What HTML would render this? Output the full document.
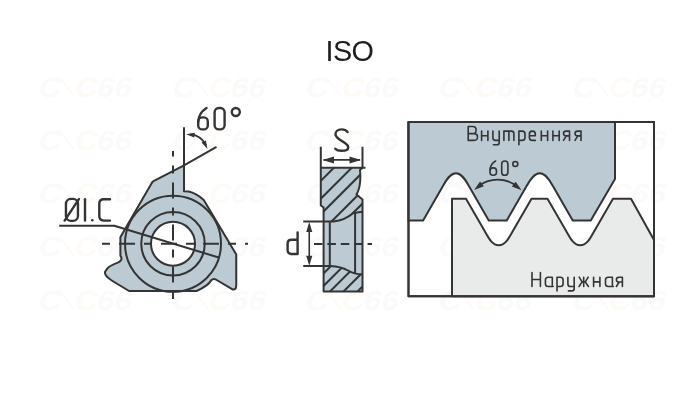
<!DOCTYPE html>
<html><head><meta charset="utf-8">
<style>
html,body{margin:0;padding:0;background:#fff;width:700px;height:400px;overflow:hidden}
svg{display:block;will-change:transform}
text{font-family:"Liberation Sans",sans-serif}
</style></head><body>
<svg width="700" height="400" viewBox="0 0 700 400">
<rect width="700" height="400" fill="#fff"/>
<!-- watermark -->
<g id="wm" font-family="Liberation Sans" font-weight="bold" font-size="28" fill="#fafafa">
<g transform="translate(36 96.70) skewX(-14) scale(1.12 1)"><text x="1" y="0">C</text><text x="33" y="0" fill="#fefaf6">C</text><text x="53" y="0">66</text></g><path d="M60.0 78.0 L74.0 96.0" stroke="#fef9f4" stroke-width="1.6" fill="none"/>
<g transform="translate(170 96.70) skewX(-14) scale(1.12 1)"><text x="1" y="0">C</text><text x="33" y="0" fill="#fefaf6">C</text><text x="53" y="0">66</text></g><path d="M194.0 78.0 L208.0 96.0" stroke="#fef9f4" stroke-width="1.6" fill="none"/>
<g transform="translate(303 96.70) skewX(-14) scale(1.12 1)"><text x="1" y="0">C</text><text x="33" y="0" fill="#fefaf6">C</text><text x="53" y="0">66</text></g><path d="M327.0 78.0 L341.0 96.0" stroke="#fef9f4" stroke-width="1.6" fill="none"/>
<g transform="translate(436 96.70) skewX(-14) scale(1.12 1)"><text x="1" y="0">C</text><text x="33" y="0" fill="#fefaf6">C</text><text x="53" y="0">66</text></g><path d="M460.0 78.0 L474.0 96.0" stroke="#fef9f4" stroke-width="1.6" fill="none"/>
<g transform="translate(570 96.70) skewX(-14) scale(1.12 1)"><text x="1" y="0">C</text><text x="33" y="0" fill="#fefaf6">C</text><text x="53" y="0">66</text></g><path d="M594.0 78.0 L608.0 96.0" stroke="#fef9f4" stroke-width="1.6" fill="none"/>
<g transform="translate(36 149.95) skewX(-14) scale(1.12 1)"><text x="1" y="0">C</text><text x="33" y="0" fill="#fefaf6">C</text><text x="53" y="0">66</text></g><path d="M60.0 131.2 L74.0 149.2" stroke="#fef9f4" stroke-width="1.6" fill="none"/>
<g transform="translate(170 149.95) skewX(-14) scale(1.12 1)"><text x="1" y="0">C</text><text x="33" y="0" fill="#fefaf6">C</text><text x="53" y="0">66</text></g><path d="M194.0 131.2 L208.0 149.2" stroke="#fef9f4" stroke-width="1.6" fill="none"/>
<g transform="translate(303 149.95) skewX(-14) scale(1.12 1)"><text x="1" y="0">C</text><text x="33" y="0" fill="#fefaf6">C</text><text x="53" y="0">66</text></g><path d="M327.0 131.2 L341.0 149.2" stroke="#fef9f4" stroke-width="1.6" fill="none"/>
<g transform="translate(436 149.95) skewX(-14) scale(1.12 1)"><text x="1" y="0">C</text><text x="33" y="0" fill="#fefaf6">C</text><text x="53" y="0">66</text></g><path d="M460.0 131.2 L474.0 149.2" stroke="#fef9f4" stroke-width="1.6" fill="none"/>
<g transform="translate(570 149.95) skewX(-14) scale(1.12 1)"><text x="1" y="0">C</text><text x="33" y="0" fill="#fefaf6">C</text><text x="53" y="0">66</text></g><path d="M594.0 131.2 L608.0 149.2" stroke="#fef9f4" stroke-width="1.6" fill="none"/>
<g transform="translate(36 203.20) skewX(-14) scale(1.12 1)"><text x="1" y="0">C</text><text x="33" y="0" fill="#fefaf6">C</text><text x="53" y="0">66</text></g><path d="M60.0 184.5 L74.0 202.5" stroke="#fef9f4" stroke-width="1.6" fill="none"/>
<g transform="translate(170 203.20) skewX(-14) scale(1.12 1)"><text x="1" y="0">C</text><text x="33" y="0" fill="#fefaf6">C</text><text x="53" y="0">66</text></g><path d="M194.0 184.5 L208.0 202.5" stroke="#fef9f4" stroke-width="1.6" fill="none"/>
<g transform="translate(303 203.20) skewX(-14) scale(1.12 1)"><text x="1" y="0">C</text><text x="33" y="0" fill="#fefaf6">C</text><text x="53" y="0">66</text></g><path d="M327.0 184.5 L341.0 202.5" stroke="#fef9f4" stroke-width="1.6" fill="none"/>
<g transform="translate(436 203.20) skewX(-14) scale(1.12 1)"><text x="1" y="0">C</text><text x="33" y="0" fill="#fefaf6">C</text><text x="53" y="0">66</text></g><path d="M460.0 184.5 L474.0 202.5" stroke="#fef9f4" stroke-width="1.6" fill="none"/>
<g transform="translate(570 203.20) skewX(-14) scale(1.12 1)"><text x="1" y="0">C</text><text x="33" y="0" fill="#fefaf6">C</text><text x="53" y="0">66</text></g><path d="M594.0 184.5 L608.0 202.5" stroke="#fef9f4" stroke-width="1.6" fill="none"/>
<g transform="translate(36 256.45) skewX(-14) scale(1.12 1)"><text x="1" y="0">C</text><text x="33" y="0" fill="#fefaf6">C</text><text x="53" y="0">66</text></g><path d="M60.0 237.8 L74.0 255.8" stroke="#fef9f4" stroke-width="1.6" fill="none"/>
<g transform="translate(170 256.45) skewX(-14) scale(1.12 1)"><text x="1" y="0">C</text><text x="33" y="0" fill="#fefaf6">C</text><text x="53" y="0">66</text></g><path d="M194.0 237.8 L208.0 255.8" stroke="#fef9f4" stroke-width="1.6" fill="none"/>
<g transform="translate(303 256.45) skewX(-14) scale(1.12 1)"><text x="1" y="0">C</text><text x="33" y="0" fill="#fefaf6">C</text><text x="53" y="0">66</text></g><path d="M327.0 237.8 L341.0 255.8" stroke="#fef9f4" stroke-width="1.6" fill="none"/>
<g transform="translate(436 256.45) skewX(-14) scale(1.12 1)"><text x="1" y="0">C</text><text x="33" y="0" fill="#fefaf6">C</text><text x="53" y="0">66</text></g><path d="M460.0 237.8 L474.0 255.8" stroke="#fef9f4" stroke-width="1.6" fill="none"/>
<g transform="translate(570 256.45) skewX(-14) scale(1.12 1)"><text x="1" y="0">C</text><text x="33" y="0" fill="#fefaf6">C</text><text x="53" y="0">66</text></g><path d="M594.0 237.8 L608.0 255.8" stroke="#fef9f4" stroke-width="1.6" fill="none"/>
<g transform="translate(36 309.70) skewX(-14) scale(1.12 1)"><text x="1" y="0">C</text><text x="33" y="0" fill="#fefaf6">C</text><text x="53" y="0">66</text></g><path d="M60.0 291.0 L74.0 309.0" stroke="#fef9f4" stroke-width="1.6" fill="none"/>
<g transform="translate(170 309.70) skewX(-14) scale(1.12 1)"><text x="1" y="0">C</text><text x="33" y="0" fill="#fefaf6">C</text><text x="53" y="0">66</text></g><path d="M194.0 291.0 L208.0 309.0" stroke="#fef9f4" stroke-width="1.6" fill="none"/>
<g transform="translate(303 309.70) skewX(-14) scale(1.12 1)"><text x="1" y="0">C</text><text x="33" y="0" fill="#fefaf6">C</text><text x="53" y="0">66</text></g><path d="M327.0 291.0 L341.0 309.0" stroke="#fef9f4" stroke-width="1.6" fill="none"/>
<g transform="translate(436 309.70) skewX(-14) scale(1.12 1)"><text x="1" y="0">C</text><text x="33" y="0" fill="#fefaf6">C</text><text x="53" y="0">66</text></g><path d="M460.0 291.0 L474.0 309.0" stroke="#fef9f4" stroke-width="1.6" fill="none"/>
<g transform="translate(570 309.70) skewX(-14) scale(1.12 1)"><text x="1" y="0">C</text><text x="33" y="0" fill="#fefaf6">C</text><text x="53" y="0">66</text></g><path d="M594.0 291.0 L608.0 309.0" stroke="#fef9f4" stroke-width="1.6" fill="none"/>
</g>
<!-- title -->
<text x="325.4" y="61" font-size="28.8" letter-spacing="-0.5" fill="#1e1e1e">ISO</text>

<!-- ===== LEFT INSERT ===== -->
<g stroke="#343434" stroke-width="2" fill="none" stroke-linejoin="round">
<path fill="#bccad3" d="M153.5 181.1 L184 165.4 L184 191.25 L188.75 191.5 Q196 193 203.75 200 L236.25 254.4 L236.25 285.5 Q236.25 290 232.5 289.4 L217.5 280.5 Q213.8 277.6 211.2 280.3 Q209.6 283.2 206.5 285.3 Q201.5 288.8 196.5 291 L129.1 291 L112.5 281 Q103 275 105.5 271 Q108 266 117.75 262.6 Q123.5 260 120.4 255.6 L120.4 237.3 L127.4 225 L151.5 183.5 Q152.3 181.7 153.5 181.1 Z"/>
<circle cx="173" cy="243.75" r="48"/>
<circle cx="173" cy="243.75" r="31.75"/>
<circle cx="173" cy="243.75" r="22" fill="#fff"/>
<path d="M184 127.25 L184 191.25"/>
<path d="M184 165.4 L216.5 146.9"/>
<path d="M59.2 225.8 L114.25 225.8 L218.75 257.5"/>
</g>
<g stroke="#343434" stroke-width="2" fill="none">
<path d="M102 243.75 L248 243.75" stroke-dasharray="8 9 16 9"/>
<path d="M173 151 L173 299" stroke-dasharray="5.5 9 8 9 16 9 8 9 16 9 8 9 16 9 8 9 16 9 8 9"/>
</g>

<!-- ===== MIDDLE SECTION ===== -->
<g stroke="#343434" stroke-width="2" fill="none" stroke-linejoin="round">
<path fill="#bccad3" d="M320.8 167.8 L362.5 167.8 L360 170 Q361.5 186 356.5 194.5 L362.5 199.5 L362.5 291.6 L323.6 291.6 L323.6 207.5 L320.8 205.5 Z"/>
<path d="M320.8 146.8 L320.8 167.8 M362.5 146.8 L362.5 167.8 L365.5 167.8"/>
<clipPath id="hu"><path d="M320.8 167.8 L362.5 167.8 L360 170 Q361.5 186 356.5 194.5 L362.5 199.5 L362.5 211.8 L353.4 213 C348 217.6 340 220.8 333.4 221.6 L323.6 221.6 L323.6 207.5 L320.8 205.5 Z"/></clipPath>
<clipPath id="hl"><path d="M323.6 266 L330.5 266 Q341 266.5 348 270.5 Q354 274.3 362.5 274.3 L362.5 291.6 L323.6 291.6 Z"/></clipPath>
<g stroke="#343434" stroke-width="2" clip-path="url(#hu)">
<path d="M181.7 320 L401.7 100 M199.5 320 L419.5 100 M215.0 320 L435.0 100 M233.0 320 L453.0 100 M246.0 320 L466.0 100"/>
</g>
<g stroke="#343434" stroke-width="2" clip-path="url(#hl)">
<path d="M277.0 320 L497.0 100 M289.5 320 L509.5 100 M301.5 320 L521.5 100 M315.0 320 L535.0 100 M329.0 320 L549.0 100"/>
</g>
<path d="M303.25 221.6 L333.4 221.6 C340 220.8 348 217.6 353.4 213 L362.5 211.8"/>
<path d="M303.25 266 L330.5 266 Q341 266.5 348 270.5 Q354 274.3 362.5 274.3"/>
<path d="M329.8 221.6 L329.8 266 M355.1 213 L355.1 274"/>
<path d="M323.6 159.9 L360 159.9" stroke-width="1.6"/>
<path d="M309.25 225 L309.25 263" stroke-width="1.6"/>
</g>
<g fill="#343434">
<polygon points="322.5,159.9 334,156.4 334,163.4"/>
<polygon points="361,159.9 349.5,156.4 349.5,163.4"/>
<polygon points="309.25,222 306.2,232 312.3,232"/>
<polygon points="309.25,265.8 306.2,255.8 312.3,255.8"/>
</g>
<path d="M314 244 L372 244" stroke="#343434" stroke-width="2" stroke-dasharray="8.5 4.9"/>

<!-- ===== RIGHT THREAD ===== -->
<g stroke="#343434" stroke-width="2" stroke-linejoin="round">
<rect x="408.5" y="122" width="245.5" height="174.3" fill="none"/>
<path fill="#bccad3" d="M408.5 122 L408.5 220.4 L423.1 220.4 L442.66 186.50 C445.66 181.30 449.73 173.20 455.93 173.20 C462.12 173.20 466.19 181.30 469.19 186.50 L488.75 220.40 L506.75 220.4 L526.31 186.50 C529.31 181.30 533.55 173.30 539.75 173.30 C545.95 173.30 550.19 181.30 553.19 186.50 L572.75 220.40 L590.75 220.4 L615 179 L615 122 Z"/>
<path fill="#e9ebea" d="M452 296.3 L452 198.7 L466 198.7 L484.64 231.00 C488.14 237.06 491.75 245.30 498.75 245.30 C505.75 245.30 509.36 237.06 512.86 231.00 L531.50 198.70 L547.5 198.7 L566.14 231.00 C569.64 237.06 573.25 245.30 580.25 245.30 C587.25 245.30 590.86 237.06 594.36 231.00 L613.00 198.70 L631 198.7 L654 240 L654 296.3 Z"/>
<rect x="408.5" y="122" width="245.5" height="174.3" fill="none"/>
</g>
<g id="arcs">
<path fill="none" stroke="#343434" stroke-width="1.8" d="M190.33 134.29 A19.5 19.5 0 0 1 206.00 145.10"/>
<polygon fill="#343434" points="186.09,134.35 194.78,132.76 194.33,137.54"/>
<polygon fill="#343434" points="207.45,149.09 201.54,142.52 205.85,140.40"/>
<path fill="none" stroke="#343434" stroke-width="1.8" d="M477.80 186.64 A32 32 0 0 1 517.93 186.90"/>
<polygon fill="#343434" points="474.14,190.04 480.05,181.39 483.90,186.25"/>
<polygon fill="#343434" points="521.54,190.35 511.83,186.43 515.75,181.63"/>
</g>
<!-- labels drawn as strokes -->
<g stroke="#343434" stroke-width="2.4" fill="none" stroke-linecap="round" stroke-linejoin="round">
<rect x="198.2" y="117.4" width="9.6" height="12" rx="4"/>
<path d="M206.5 108 Q198.6 113 198.2 122"/>
<rect x="214.6" y="108" width="10" height="21.4" rx="4.2"/>
<circle cx="235.8" cy="112" r="4"/>
<rect x="65.95" y="198.9" width="12" height="22" rx="5"/>
<path d="M64.6 220.6 L78.9 199.1"/>
<path d="M85 199.3 L85 220.6"/>
<path d="M110 199.3 L103.8 199.3 Q99.3 199.3 99.3 203.8 L99.3 216.1 Q99.3 220.6 103.8 220.6 L110 220.6"/>
<path transform="translate(0 0.3)" d="M347.6 131.8 C346 129.6 344 129.1 341.5 129.1 C337.6 129.1 335.5 131.4 335.5 134 C335.5 136.6 337.2 137.6 340 139.5 L345.3 143 C347.4 144.4 348.2 145.6 348.2 147.1 C348.2 149.6 345.5 150.5 341.5 150.5 C338.6 150.5 336.5 149.8 335.3 148.4"/>
<path d="M297.6 232.5 L297.6 254 L291.5 254 Q287.6 254 287.6 250.1 L287.6 243.7 Q287.6 239.8 291.5 239.8 L297.6 239.8"/>
</g>
<circle cx="92.3" cy="220.2" r="1.3" fill="#343434"/>
<g stroke="#343434" stroke-width="1.6" fill="none" stroke-linecap="round" stroke-linejoin="round">
<rect x="490" y="167.9" width="6.5" height="7.4" rx="3"/>
<path d="M495.6 161 Q490.3 164 490 170"/>
<rect x="501.7" y="161" width="6.2" height="14.3" rx="3.1"/>
<circle cx="515.3" cy="164" r="2.5"/>
</g>
<g id="cyr" stroke="#343434" stroke-width="1.6" fill="none" stroke-linecap="round" stroke-linejoin="round">
<path transform="translate(468.2 140.4)" d="M0 0 L0 -13.9 L4.6 -13.9 Q7.9 -13.9 7.9 -10.600000000000001 L7.9 -10.2 Q7.9 -6.8 4.6 -6.8 L0 -6.8 M4.6 -6.8 L5.9 -6.8 Q9.3 -6.8 9.3 -3.4 Q9.3 0 5.9 0 L0 0"/>
<path transform="translate(481.6 140.4)" d="M0 0 L0 -9.3 M6.3 0 L6.3 -9.3 M0 -4.65 L6.3 -4.65"/>
<path transform="translate(492.9 140.4)" d="M0 -9.3 L0 -2.6 Q0 0 2.6 0 L6.3 0 M6.3 -9.3 L6.3 2.0000000000000004 Q6.3 4.4 3.9 4.4 L0.5 4.4"/>
<path transform="translate(503.9 140.4)" d="M0 0 L0 -9.3 L7.4 -9.3 Q10 -9.3 10 -6.700000000000001 L10 0 M5.0 -9.3 L5.0 0"/>
<path transform="translate(518.9 140.4)" d="M0 4.4 L0 -9.3 L3.3 -9.3 Q6.1 -9.3 6.1 -6.500000000000001 L6.1 -2.8 Q6.1 0 3.3 0 L0 0"/>
<path transform="translate(529.4 140.4)" d="M5.9 0 L2.8 0 Q0 0 0 -2.8 L0 -6.500000000000001 Q0 -9.3 2.8 -9.3 L3.1000000000000005 -9.3 Q5.9 -9.3 5.9 -6.500000000000001 L5.9 -4.65 L0 -4.65"/>
<path transform="translate(541.3 140.4)" d="M0 0 L0 -9.3 M6.3 0 L6.3 -9.3 M0 -4.65 L6.3 -4.65"/>
<path transform="translate(552.9 140.4)" d="M0 0 L0 -9.3 M6.3 0 L6.3 -9.3 M0 -4.65 L6.3 -4.65"/>
<path transform="translate(563.5 140.4)" d="M6.0 0 L6.0 -9.3 L2.6 -9.3 Q0 -9.3 0 -6.800000000000001 Q0 -4.5 2.6 -4.5 L6.0 -4.5 M2.8 -4.5 L0 0"/>
<path transform="translate(575.0 140.4)" d="M6.0 0 L6.0 -9.3 L2.6 -9.3 Q0 -9.3 0 -6.800000000000001 Q0 -4.5 2.6 -4.5 L6.0 -4.5 M2.8 -4.5 L0 0"/>
<path transform="translate(532.0 286.5)" d="M0 0 L0 -13.9 M8.4 0 L8.4 -13.9 M0 -6.95 L8.4 -6.95"/>
<path transform="translate(545.4 286.5)" d="M6.9 -9.3 L2.8 -9.3 Q0 -9.3 0 -6.500000000000001 L0 -2.8 Q0 0 2.8 0 L6.9 0 M6.9 -9.3 L6.9 -0.8 Q6.9 0 7.800000000000001 0"/>
<path transform="translate(557.0 286.5)" d="M0 4.4 L0 -9.3 L3.3 -9.3 Q6.1 -9.3 6.1 -6.500000000000001 L6.1 -2.8 Q6.1 0 3.3 0 L0 0"/>
<path transform="translate(567.9 286.5)" d="M0 -9.3 L0 -2.6 Q0 0 2.6 0 L6.3 0 M6.3 -9.3 L6.3 2.0000000000000004 Q6.3 4.4 3.9 4.4 L0.5 4.4"/>
<path transform="translate(579.0 286.5)" d="M0.2 -9.3 L3.1 -4.65 L0 0 M9.200000000000001 -9.3 L6.300000000000001 -4.65 L9.4 0 M3.1 -4.65 L6.300000000000001 -4.65 M4.7 -9.3 L4.7 0"/>
<path transform="translate(593.6 286.5)" d="M0 0 L0 -9.3 M6.3 0 L6.3 -9.3 M0 -4.65 L6.3 -4.65"/>
<path transform="translate(605.5 286.5)" d="M6.9 -9.3 L2.8 -9.3 Q0 -9.3 0 -6.500000000000001 L0 -2.8 Q0 0 2.8 0 L6.9 0 M6.9 -9.3 L6.9 -0.8 Q6.9 0 7.800000000000001 0"/>
<path transform="translate(616.4 286.5)" d="M6.0 0 L6.0 -9.3 L2.6 -9.3 Q0 -9.3 0 -6.800000000000001 Q0 -4.5 2.6 -4.5 L6.0 -4.5 M2.8 -4.5 L0 0"/>
</g>
</svg>
</body></html>
